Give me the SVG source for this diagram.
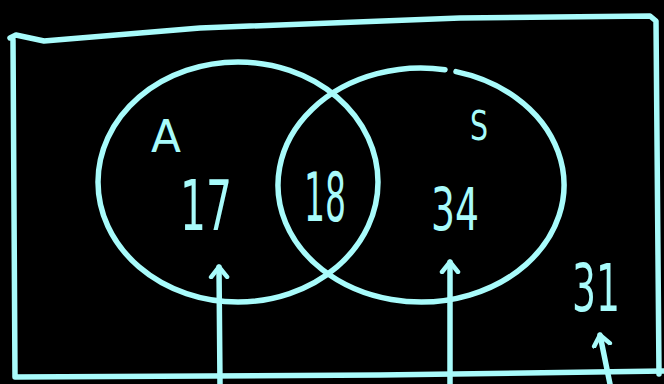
<svg xmlns="http://www.w3.org/2000/svg" width="664" height="384" viewBox="0 0 664 384">
<style>
.ln{fill:none;stroke:#a8fbfb;stroke-width:5.5;stroke-linecap:round;stroke-linejoin:round}
.t{fill:#a8fbfb;font-family:"DejaVu Sans",sans-serif;font-weight:normal}
</style>
<defs>
<marker id="ah" markerUnits="userSpaceOnUse" viewBox="-12 -12 24 24" markerWidth="24" markerHeight="24" refX="0" refY="0" orient="auto">
<path d="M-10,-8 L0,0 L-10,8" fill="none" stroke="#a8fbfb" stroke-width="4.5" stroke-linecap="round" stroke-linejoin="round"/>
</marker>
</defs>
<rect width="664" height="384" fill="#000"/>
<g id="universe">
<path class="ln" d="M10,38 L16,35 L44,41 L200,28 L460,18 L650,16 L656,21 L659,374"/>
<path class="ln" d="M13,40 L15,377 L380,375 L664,371"/>
</g>
<g id="setA">
<ellipse class="ln" cx="238" cy="182" rx="140" ry="120"/>
<text class="t" x="166" y="152" font-size="44" text-anchor="middle" textLength="30" lengthAdjust="spacingAndGlyphs">A</text>
</g>
<g id="setS">
<path class="ln" d="M456,71.6 A143,117 0 1,1 445,69.7"/>
<text class="t" x="479" y="140" font-size="40" text-anchor="middle" textLength="18" lengthAdjust="spacingAndGlyphs">S</text>
</g>
<g id="labels">
<text class="t" x="206" y="230" font-size="70" text-anchor="middle" textLength="52" lengthAdjust="spacingAndGlyphs">17</text>
<text class="t" x="325" y="221" font-size="68" text-anchor="middle" textLength="42" lengthAdjust="spacingAndGlyphs">18</text>
<text class="t" x="455" y="230" font-size="58" text-anchor="middle" textLength="48" lengthAdjust="spacingAndGlyphs">34</text>
<text class="t" x="596" y="311" font-size="66" text-anchor="middle" textLength="48" lengthAdjust="spacingAndGlyphs">31</text>
</g>
<g id="connectors">
<path class="ln" d="M220,384 L219,267" marker-end="url(#ah)"/>
<path class="ln" d="M450,384 L450,262" marker-end="url(#ah)"/>
<path class="ln" d="M610,384 L600,335" marker-end="url(#ah)"/>
</g>
</svg>
